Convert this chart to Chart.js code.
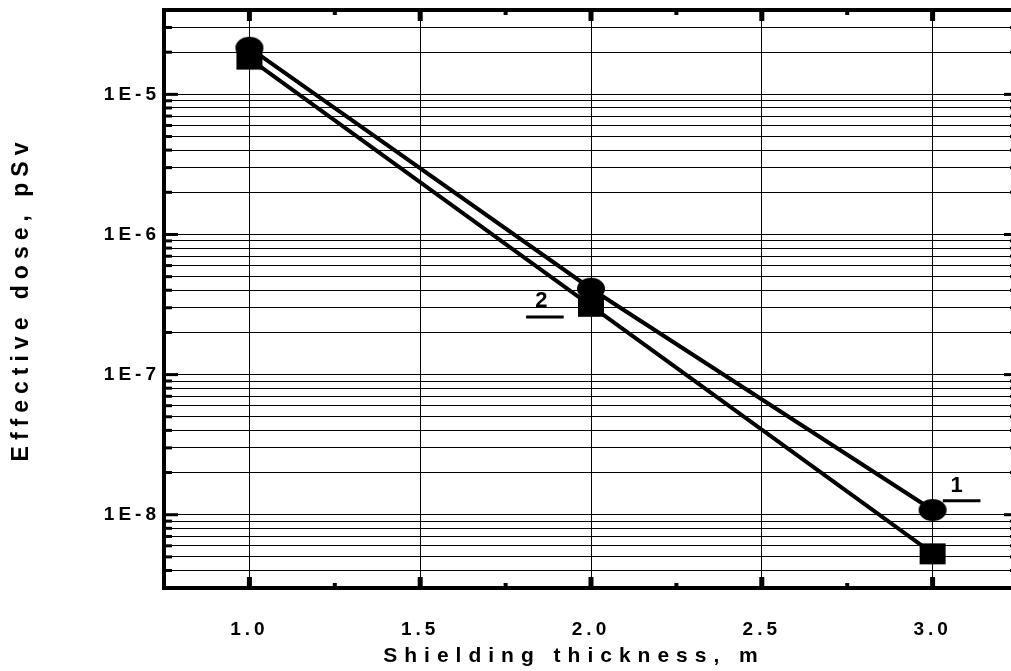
<!DOCTYPE html>
<html lang="en">
<head>
    <meta charset="UTF-8">
    <title>Effective dose vs shielding thickness</title>
    <script src="https://cdn.jsdelivr.net/npm/chart.js"></script>
    <style>
        html, body {
            margin: 0;
            padding: 0;
            overflow: hidden;
            background: #fff;
        }
        /* wider than the window: the right frame edge falls just off screen */
        #chart-container {
            width: 1030px;
            height: 671px;
        }
    </style>
</head>
<body>

    <div id="chart-container">
        <canvas id="doseChart" width="1030" height="671"></canvas>
    </div>

    <script>
        // values
        const thickness = [1.0, 2.0, 3.0];
        const dose1 = [2.15e-5, 4.1e-7, 1.08e-8];   // circles, curve 1
        const dose2 = [1.8e-5, 3.1e-7, 5.3e-9];     // squares, curve 2
        const curveLabels = ['1', '2'];

        const xTickLabels = ['1.0', '1.5', '2.0', '2.5', '3.0'];
        const yTickLabels = ['1E-8', '1E-7', '1E-6', '1E-5'];

        const FONT = '"Liberation Sans", Arial, sans-serif';

        // marker images
        function markerCanvas(kind) {
            const c = document.createElement('canvas');
            c.width = 30;
            c.height = 24;
            const g = c.getContext('2d');
            g.fillStyle = '#000';
            if (kind === 'ellipse') {
                g.beginPath();
                g.ellipse(15, 12, 14, 11, 0, 0, Math.PI * 2);
                g.fill();
            } else {
                g.fillRect(2, 2, 26, 21);
            }
            return c;
        }

        function isPow10(v) {
            const e = Math.log10(v);
            return Math.abs(e - Math.round(e)) < 1e-6;
        }

        function yLabel(v) {
            if (!isPow10(v)) return '';
            const s = '1E' + Math.round(Math.log10(v));
            return yTickLabels.includes(s) ? s : '';
        }

        function xLabel(v) {
            const s = v.toFixed(1);
            return (xTickLabels.includes(s) && Math.abs(v * 2 - Math.round(v * 2)) < 1e-6) ? s : '';
        }

        // inward ticks, top frame, curve numbers and axis titles
        const frame = {
            id: 'frame',
            beforeUpdate(chart) { chart.ctx.letterSpacing = '4px'; },
            beforeDraw(chart) { chart.ctx.letterSpacing = '4px'; },
            afterDraw(chart) {
                const ctx = chart.ctx;
                const a = chart.chartArea;
                const xs = chart.scales.x;
                const ys = chart.scales.y;
                ctx.save();
                ctx.letterSpacing = '0px';
                ctx.fillStyle = '#000';
                ctx.strokeStyle = '#000';

                // top and right frame lines
                ctx.fillRect(a.left - 2, a.top - 2, a.right - a.left + 4, 4);
                ctx.fillRect(a.right - 2, a.top - 2, 4, a.bottom - a.top + 4);

                // y ticks, left and right
                ys.ticks.forEach(t => {
                    const y = ys.getPixelForValue(t.value);
                    const len = isPow10(t.value) ? 14 : 8;
                    ctx.fillRect(a.left, y - 1.5, len, 3);
                    ctx.fillRect(a.right - len, y - 1.5, len, 3);
                });
                // x ticks, bottom and top
                xs.ticks.forEach(t => {
                    const x = xs.getPixelForValue(t.value);
                    const major = xLabel(t.value) !== '';
                    const len = major ? 11 : 5;
                    const w = major ? 5 : 4;
                    ctx.fillRect(x - w / 2, a.bottom - len, w, len);
                    ctx.fillRect(x - w / 2, a.top, w, len);
                });

                // curve numbers with their short leader lines
                ctx.font = 'bold 22px ' + FONT;
                ctx.textAlign = 'center';
                ctx.textBaseline = 'middle';
                ctx.lineWidth = 3;
                const notes = [
                    { text: curveLabels[0], x: 3.07, y: 1.6e-8, x0: 3.03, x1: 3.14, yl: 1.26e-8 },
                    { text: curveLabels[1], x: 1.855, y: 3.35e-7, x0: 1.81, x1: 1.92, yl: 2.58e-7 }
                ];
                notes.forEach(n => {
                    ctx.fillText(n.text, xs.getPixelForValue(n.x), ys.getPixelForValue(n.y));
                    const yl = ys.getPixelForValue(n.yl);
                    ctx.beginPath();
                    ctx.moveTo(xs.getPixelForValue(n.x0), yl);
                    ctx.lineTo(xs.getPixelForValue(n.x1), yl);
                    ctx.stroke();
                });

                // axis titles
                ctx.font = 'bold 21px ' + FONT;
                ctx.letterSpacing = '7px';
                ctx.fillText('Shielding thickness, m', 574, 656);
                ctx.translate(22, (a.top + a.bottom) / 2);
                ctx.rotate(-Math.PI / 2);
                ctx.font = 'bold 23px ' + FONT;
                ctx.letterSpacing = '6px';
                ctx.fillText('Effective dose, pSv', 0, 0);
                ctx.restore();
            }
        };

        const ctx = document.getElementById('doseChart').getContext('2d');
        new Chart(ctx, {
            type: 'line',
            data: {
                datasets: [{
                    label: 'Curve 1',
                    data: thickness.map((x, i) => ({ x: x, y: dose1[i] })),
                    borderColor: '#000',
                    borderWidth: 4,
                    pointStyle: markerCanvas('ellipse'),
                    tension: 0,
                    fill: false
                }, {
                    label: 'Curve 2',
                    data: thickness.map((x, i) => ({ x: x, y: dose2[i] })),
                    borderColor: '#000',
                    borderWidth: 4,
                    pointStyle: markerCanvas('square'),
                    tension: 0,
                    fill: false
                }]
            },
            options: {
                responsive: false,
                animation: false,
                devicePixelRatio: 1,
                layout: {
                    padding: { top: 10, right: 12, left: 0, bottom: 0 }
                },
                plugins: {
                    legend: { display: false },
                    tooltip: { enabled: false }
                },
                scales: {
                    x: {
                        type: 'linear',
                        min: 0.75,
                        max: 3.25,
                        afterFit: s => {
                            s.height = 83;
                            s.paddingLeft = 0;
                            s.paddingRight = 0;
                        },
                        border: { color: '#000', width: 4 },
                        grid: {
                            drawTicks: false,
                            lineWidth: 1,
                            color: c => xLabel(c.tick.value) ? '#000' : 'rgba(0,0,0,0)'
                        },
                        ticks: {
                            stepSize: 0.25,
                            autoSkip: false,
                            maxRotation: 0,
                            padding: 30,
                            color: '#000',
                            font: { family: FONT, size: 19, weight: 'bold' },
                            callback: v => xLabel(v)
                        }
                    },
                    y: {
                        type: 'logarithmic',
                        min: 3e-9,
                        max: 4e-5,
                        afterFit: s => {
                            s.width = 164;
                            s.paddingTop = 0;
                            s.paddingBottom = 0;
                        },
                        afterBuildTicks: s => {
                            const t = [];
                            for (let e = -9; e <= -5; e++) {
                                for (let m = 1; m <= 9; m++) {
                                    const v = m * Math.pow(10, e);
                                    if (v >= 3e-9 * 0.999 && v <= 4e-5 * 1.001) t.push({ value: v });
                                }
                            }
                            s.ticks = t;
                        },
                        border: { color: '#000', width: 4 },
                        grid: {
                            drawTicks: false,
                            lineWidth: 1,
                            color: '#000'
                        },
                        ticks: {
                            autoSkip: false,
                            padding: 4,
                            color: '#000',
                            font: { family: FONT, size: 19, weight: 'bold' },
                            callback: v => yLabel(v)
                        }
                    }
                }
            },
            plugins: [frame]
        });
    </script>
</body>
</html>
